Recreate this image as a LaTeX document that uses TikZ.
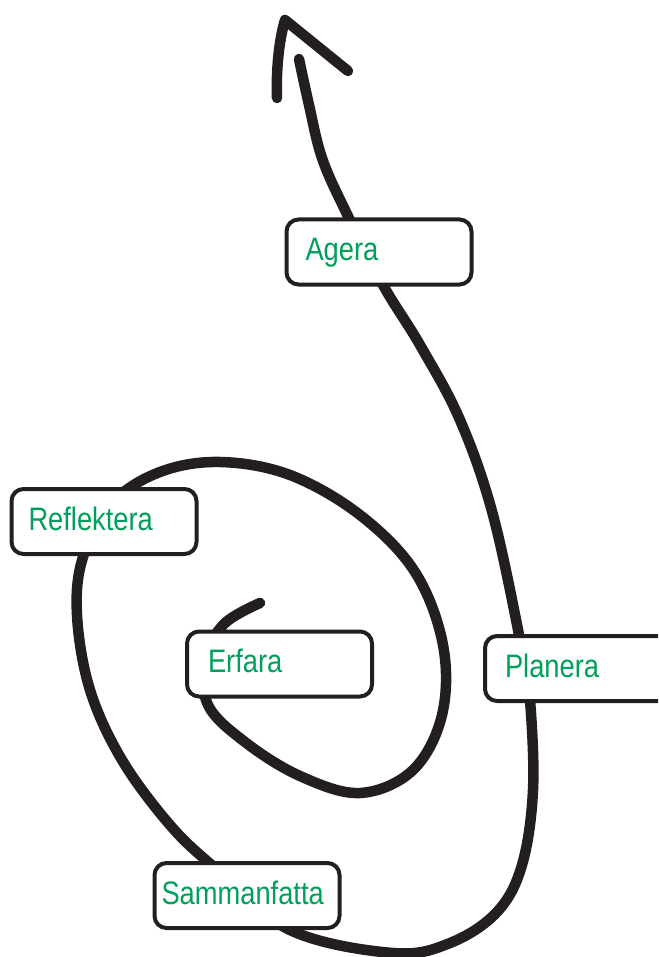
\documentclass[tikz,border=0pt]{standalone}
\usepackage{fontspec}
\setmainfont{Liberation Sans}[FakeStretch=0.84]
\definecolor{ink}{HTML}{231F20}
\definecolor{leaf}{RGB}{0,160,90}
\begin{document}
\begin{tikzpicture}[x=1pt,y=-1pt,
  spiral/.style={draw=ink,line width=10.5pt,line cap=round,line join=round},
  labelbox/.style={draw=ink,line width=4pt,fill=white,rounded corners=12pt,
    anchor=west,outer sep=0pt,inner ysep=0pt,minimum height=65pt,
    text height=24pt,text depth=7pt,align=left,text=leaf,
    font=\fontsize{32.5}{36}\selectfont}]
\useasboundingbox (0,0) rectangle (658,957);
\clip (0,0) rectangle (658,957);
% spiral path
\draw[spiral] plot[smooth,tension=0.6] coordinates {
 (260,603) (224,624) (205,660) (208,705) (245,742) (300,776) (360,793)
 (413,770) (442,715) (443,645) (415,572) (360,515) (290,475) (220,462)
 (160,472) (112,503) (83,557) (77,615) (90,690) (122,760) (170,825)
 (215,868) (290,930) (393,953) (450,943) (497,912) (522,865) (533,790)
 (530,700) (522,650) (493,515) (460,420) (420,345) (383,285) (345,210)
 (322,158) (309,105) (299,59)};
% arrow head
\draw[spiral] (277,98) .. controls (276,70) and (279,40) .. (285,20) -- (348,71);
% boxes
\node[labelbox,inner xsep=19pt,text width=147pt] (agera) at (286.5,252) {Agera};
\node[labelbox,inner xsep=20pt,text width=185pt] (planera) at (485,668.5) {Planera};
\node[labelbox,inner xsep=17pt,text width=151pt] (reflektera) at (11.5,521.5) {Reflektera};
\node[labelbox,inner xsep=21pt,text width=143pt] (erfara) at (187,664) {Erfara};
\node[labelbox,inner xsep=7pt,text width=171pt] (sammanfatta) at (154.5,895.5) {Sammanfatta};
\end{tikzpicture}
\end{document}
